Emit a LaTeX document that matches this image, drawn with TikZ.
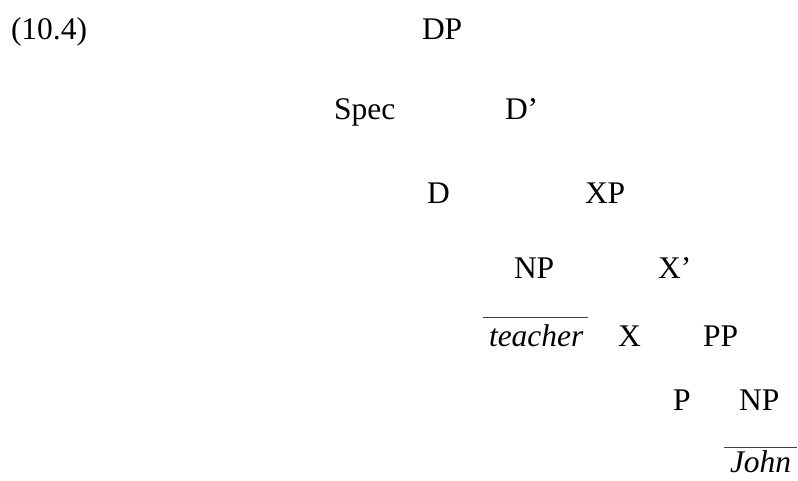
\documentclass[tikz,border=0pt]{standalone}
\usepackage{fontspec}
\setmainfont{Liberation Serif}
\begin{document}
\begin{tikzpicture}[x=1pt,y=-1pt,
  lab/.style={anchor=base west,inner sep=0pt,outer sep=0pt,font=\fontsize{31.5}{36}\selectfont},
  word/.style={lab,font=\fontsize{31.5}{36}\selectfont\itshape},
  bar/.style={draw=black!75,line width=0.9pt}]
\useasboundingbox (0,0) rectangle (798,480);
% example number
\node[lab] (num) at (11,39) {(10.4)};
% tree labels
\node[lab] (dp) at (422,39) {DP};
\node[lab] (spec) at (334,119) {Spec};
\node[lab] (dbar) at (505,119) {D’};
\node[lab] (d) at (427,203) {D};
\node[lab] (xp) at (585,203) {XP};
\node[lab] (np1) at (514,278) {NP};
\node[lab] (xbar) at (658,278) {X’};
\node[word] (teacher) at (489,346) {teacher};
\node[lab] (x) at (618,346) {X};
\node[lab] (pp) at (703,346) {PP};
\node[lab] (p) at (673,410) {P};
\node[lab] (np2) at (739,410) {NP};
\node[word] (john) at (730,472) {John};
% bars over the lexical items
\coordinate (tl) at (483,317);
\coordinate (tr) at (588,317);
\coordinate (jl) at (724,447);
\coordinate (jr) at (797,447);
\draw[bar] (tl) -- (tr);
\draw[bar] (jl) -- (jr);
\end{tikzpicture}
\end{document}
